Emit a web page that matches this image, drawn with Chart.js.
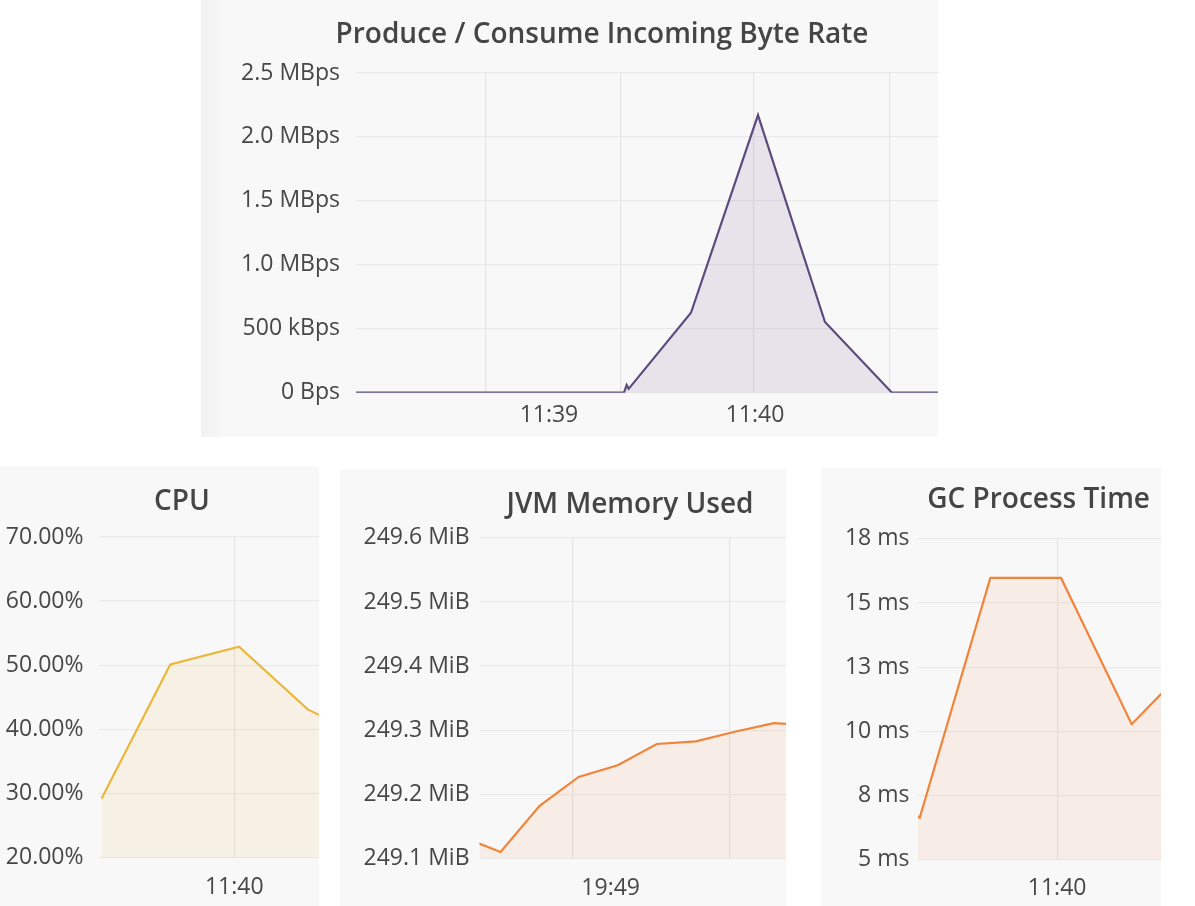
<!DOCTYPE html>
<html>
<head>
<meta charset="utf-8">
<script src="https://cdn.jsdelivr.net/npm/chart.js@4.4.0/dist/chart.umd.min.js"></script>
<style>
  html, body { margin: 0; padding: 0; background: #ffffff; }
  body { width: 1195px; height: 906px; position: relative; overflow: hidden; }
  .panel { position: absolute; background: #f8f8f8; }
  .panel canvas { position: absolute; left: 0; top: 0; }
  #p1 { background: linear-gradient(to right, #f1f1f1 0px, #f6f6f6 20px, #f8f8f8 24px); }
</style>
</head>
<body>
<div class="panel" id="p1" style="left:201px;top:0px;width:737px;height:437px"><canvas id="c1" width="737" height="437"></canvas></div>
<div class="panel" id="p2" style="left:0px;top:466px;width:319px;height:440px"><canvas id="c2" width="319" height="440"></canvas></div>
<div class="panel" id="p3" style="left:340px;top:469px;width:446px;height:437px"><canvas id="c3" width="446" height="437"></canvas></div>
<div class="panel" id="p4" style="left:821px;top:468px;width:340px;height:438px"><canvas id="c4" width="340" height="438"></canvas></div>
<script>
// ---------- data (x = sample index) ----------
const byteRateSamples = [0, 1, 2, 3, 4, 4.04, 4.07, 5, 6, 7, 8, 9];
const byteRateValues  = [0, 0, 0, 0, 0, 60000, 30000, 625000, 2171000, 553000, 0, 0];
const byteRateYTicks  = [0, 500000, 1000000, 1500000, 2000000, 2500000];
const byteRateYLabels = ['0 Bps', '500 kBps', '1.0 MBps', '1.5 MBps', '2.0 MBps', '2.5 MBps'];
const byteRateGridX   = [1.94, 3.95, 5.93, 7.97];
const byteRateTimeAt  = [2.88, 5.955];
const byteRateTimes   = ['11:39', '11:40'];

const cpuSamples = [0, 1, 2, 3, 4];
const cpuValues  = [29.2, 50.1, 52.9, 43.1, 37.9];
const cpuYTicks  = [20, 30, 40, 50, 60, 70];
const cpuYLabels = ['20.00%', '30.00%', '40.00%', '50.00%', '60.00%', '70.00%'];
const cpuGridX   = [1.93];
const cpuTimeAt  = [1.93];
const cpuTimes   = ['11:40'];

const jvmSamples = [-1, 0, 1, 2, 3, 4, 5, 6, 7, 8];
const jvmValues  = [249.1339, 249.1101, 249.1819, 249.2271, 249.2452, 249.2785, 249.2827, 249.2975, 249.3109, 249.3073];
const jvmYTicks  = [249.1, 249.2, 249.3, 249.4, 249.5, 249.6];
const jvmYLabels = ['249.1 MiB', '249.2 MiB', '249.3 MiB', '249.4 MiB', '249.5 MiB', '249.6 MiB'];
const jvmGridX   = [1.843, 5.853];
const jvmTimeAt  = [2.82];
const jvmTimes   = ['19:49'];

const gcSamples = [-1, 0, 1, 2, 3, 4];
const gcValues  = [9.0, 6.63, 15.98, 15.98, 10.28, 13.10];
const gcYTicks  = [5, 7.5, 10, 12.5, 15, 17.5];
const gcYLabels = ['5 ms', '8 ms', '10 ms', '13 ms', '15 ms', '18 ms'];
const gcGridX   = [1.945];
const gcTimeAt  = [1.945];
const gcTimes   = ['11:40'];

// ---------- chart builder ----------
const FONT = "'Open Sans', 'Noto Sans', sans-serif";
const TEXT = '#474747';
const TICK_SIZE = 23;

// panel title drawn as canvas text at a given centre point
const panelTitle = {
  id: 'panelTitle',
  afterDraw(chart, args, opts) {
    const c = chart.ctx;
    c.save();
    c.font = '600 ' + opts.size + 'px ' + FONT;
    c.fillStyle = opts.color;
    c.textAlign = 'center';
    c.textBaseline = 'middle';
    c.fillText(opts.text, opts.x, opts.y);
    c.restore();
  }
};

function zip(xs, ys) { return xs.map((x, i) => ({ x: x, y: ys[i] })); }

function makeChart(id, o) {
  const xTickVals = Array.from(new Set(o.gridX.concat(o.timeAt))).sort((a, b) => a - b);
  return new Chart(document.getElementById(id), {
    type: 'line',
    data: {
      datasets: [{
        data: zip(o.xs, o.ys),
        borderColor: o.line,
        backgroundColor: o.fill,
        fill: 'start',
        borderWidth: 2.2,
        pointRadius: 0,
        tension: 0
      }]
    },
    options: {
      responsive: false,
      animation: false,
      events: [],
      layout: { padding: { left: 0, right: 0, top: o.top, bottom: 0 } },
      plugins: {
        legend: { display: false },
        tooltip: { enabled: false },
        title: { display: false },
        panelTitle: { text: o.title, size: 28, color: '#454545', x: o.titleX, y: o.titleY }
      },
      scales: {
        x: {
          type: 'linear',
          min: o.xMin, max: o.xMax,
          border: { display: false },
          grid: {
            drawTicks: false,
            lineWidth: 1.2,
            color: (ctx) => (ctx.tick && o.gridX.includes(ctx.tick.value)) ? '#e4e4e4' : 'rgba(0,0,0,0)'
          },
          ticks: {
            autoSkip: false, maxRotation: 0, padding: o.xPad,
            color: TEXT, font: { family: FONT, size: TICK_SIZE },
            callback: (v) => { const i = o.timeAt.indexOf(v); return i >= 0 ? o.times[i] : ''; }
          },
          afterBuildTicks: (s) => { s.ticks = xTickVals.map(v => ({ value: v })); },
          afterFit: (s) => { s.height = o.xHeight; }
        },
        y: {
          type: 'linear',
          min: o.yTicks[0], max: o.yTicks[o.yTicks.length - 1],
          border: { display: false },
          grid: { drawTicks: false, color: '#e9e9e9', lineWidth: 1.2 },
          ticks: {
            padding: o.yPad, color: TEXT, font: { family: FONT, size: TICK_SIZE },
            callback: (v, i) => o.yLabels[i]
          },
          afterBuildTicks: (s) => { s.ticks = o.yTicks.map(v => ({ value: v })); },
          afterFit: (s) => { s.width = o.yWidth; }
        }
      }
    },
    plugins: [panelTitle]
  });
}

makeChart('c1', {
  title: 'Produce / Consume Incoming Byte Rate', titleX: 401, titleY: 35, top: 73,
  xs: byteRateSamples, ys: byteRateValues, yTicks: byteRateYTicks, yLabels: byteRateYLabels,
  gridX: byteRateGridX, timeAt: byteRateTimeAt, times: byteRateTimes,
  xMin: 0, xMax: 8.687, yWidth: 155, yPad: 16, xHeight: 44.3, xPad: 8.5,
  line: '#5d4b7e', fill: 'rgba(93,75,126,0.11)'
});
makeChart('c2', {
  title: 'CPU', titleX: 182, titleY: 36.5, top: 71,
  xs: cpuSamples, ys: cpuValues, yTicks: cpuYTicks, yLabels: cpuYLabels,
  gridX: cpuGridX, timeAt: cpuTimeAt, times: cpuTimes,
  xMin: -0.038, xMax: 3.164, yWidth: 99, yPad: 15.5, xHeight: 48.5, xPad: 16,
  line: '#ebb73b', fill: 'rgba(235,183,59,0.10)'
});
makeChart('c3', {
  title: 'JVM Memory Used', titleX: 290, titleY: 36, top: 68.9,
  xs: jvmSamples, ys: jvmValues, yTicks: jvmYTicks, yLabels: jvmYLabels,
  gridX: jvmGridX, timeAt: jvmTimeAt, times: jvmTimes,
  xMin: -0.54, xMax: 7.31, yWidth: 139.5, yPad: 10, xHeight: 47.6, xPad: 15.8,
  line: '#f0843b', fill: 'rgba(240,132,59,0.09)'
});
makeChart('c4', {
  title: 'GC Process Time', titleX: 217.6, titleY: 32, top: 70.9,
  xs: gcSamples, ys: gcValues, yTicks: gcYTicks, yLabels: gcYLabels,
  gridX: gcGridX, timeAt: gcTimeAt, times: gcTimes,
  xMin: -0.024, xMax: 3.415, yWidth: 97, yPad: 8.5, xHeight: 46.3, xPad: 14.6,
  line: '#f0843b', fill: 'rgba(240,132,59,0.09)'
});
</script>
</body>
</html>
